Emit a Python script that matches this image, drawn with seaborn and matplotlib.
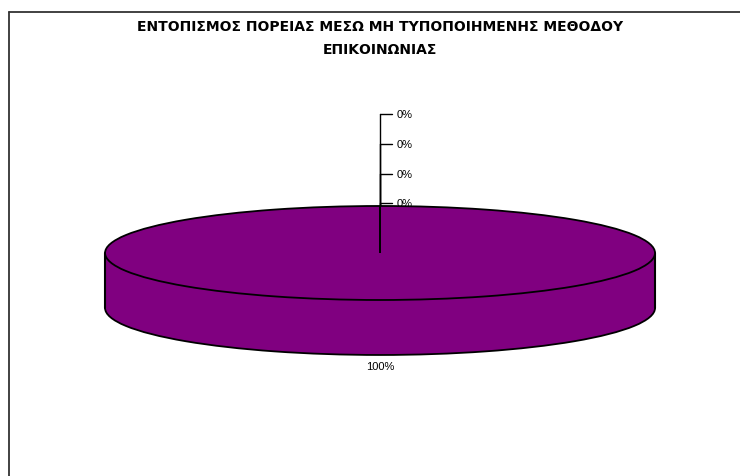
import matplotlib
matplotlib.use('Agg')
import matplotlib.pyplot as plt
from matplotlib.lines import Line2D
from matplotlib.patches import Rectangle
import numpy as np
import seaborn as sns

# values (one slice holds everything, four are empty)
title_lines = ['ΕΝΤΟΠΙΣΜΟΣ ΠΟΡΕΙΑΣ ΜΕΣΩ ΜΗ ΤΥΠΟΠΟΙΗΜΕΝΗΣ ΜΕΘΟΔΟΥ',
               'ΕΠΙΚΟΙΝΩΝΙΑΣ']
shares = [100, 0, 0, 0, 0]
pct_labels = ['100%', '0%', '0%', '0%', '0%']

sns.set_theme(style='white')
plt.rcParams['font.family'] = ['Liberation Sans', 'DejaVu Sans']
plt.rcParams['text.color'] = 'black'

purple = '#800080'
depth = 1.17        # thickness of the disc, in radius units
label_step = 0.63   # spacing of the stacked 0% labels

fig = plt.figure(figsize=(7.4, 4.77), dpi=100)
ax = fig.add_axes([0, 0, 1, 1])

# bottom disc, then the side band, then the top disc
ax.pie(shares, center=(0, -depth), startangle=90, counterclock=False,
       colors=[purple] * len(shares),
       wedgeprops=dict(edgecolor='black', linewidth=1.3, zorder=1))
ax.add_patch(Rectangle((-1, -depth), 2, depth, facecolor=purple,
                       edgecolor='none', zorder=2))
ax.plot([-1, -1], [-depth, 0], color='black', lw=1.5, zorder=3)
ax.plot([1, 1], [-depth, 0], color='black', lw=1.5, zorder=3)
wedges, _ = ax.pie(shares, startangle=90, counterclock=False,
                   colors=[purple] * len(shares),
                   wedgeprops=dict(edgecolor='black', linewidth=1.3, zorder=4))

# labels: real slices below the disc, empty ones stacked on a leader line
k = 0
for w, share, lab in zip(wedges, shares, pct_labels):
    mid = np.deg2rad((w.theta1 + w.theta2) / 2)
    x0, y0 = np.cos(mid), np.sin(mid)
    if share > 0:
        if y0 < 0:
            y = y0 - depth - 0.23
        else:
            y = y0 + 0.23
        ax.text(x0, y, lab, ha='center', va='center', fontsize=8, zorder=6)
    else:
        y = y0 + 0.06 + k * label_step
        ax.plot([x0, x0], [y0, y], color='black', lw=1, zorder=0.5)
        ax.plot([x0, x0 + 0.044], [y, y], color='black', lw=1, zorder=0.5)
        ax.text(x0 + 0.06, y, lab, ha='left', va='center', fontsize=8, zorder=0.5)
        k += 1

ax.set_aspect('auto')
ax.set_xlim(-1.382, 1.309)
ax.set_ylim(-4.745, 5.404)
ax.axis('off')

for i, line in enumerate(title_lines):
    fig.text(380 / 740, 1 - (27 + 23 * i) / 477, line, ha='center', va='center',
             fontsize=10, fontweight='bold', family='DejaVu Sans')

# chart area border (cut off on the right and bottom)
fig.add_artist(Line2D([9 / 740, 1], [1 - 12.5 / 477] * 2, transform=fig.transFigure,
                      color='#333333', lw=1.3))
fig.add_artist(Line2D([9 / 740] * 2, [0, 1 - 12.5 / 477], transform=fig.transFigure,
                      color='#333333', lw=1.3))

fig.savefig('out.png', dpi=100)
